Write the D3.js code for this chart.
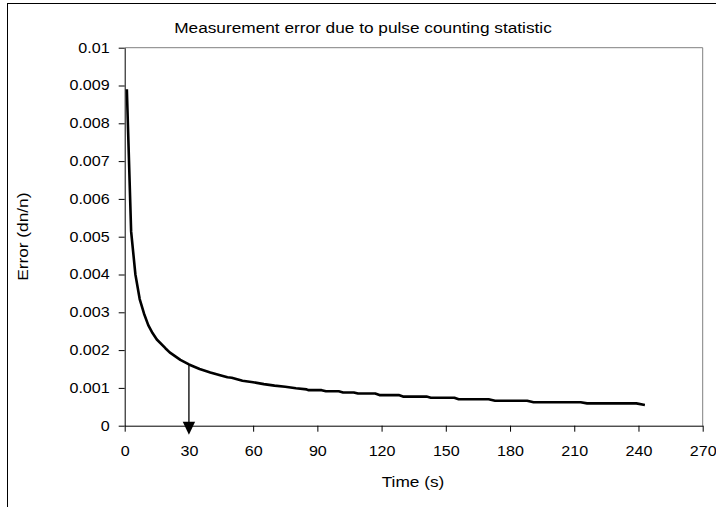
<!DOCTYPE html>
<html lang="en">
<head>
<meta charset="UTF-8">
<title>Measurement error</title>
<script src="https://d3js.org/d3.v7.min.js"></script>
<style>
  body { margin: 0; background: #fff; }
  text { font-family: "Liberation Sans", Arial, sans-serif; fill: #000; }
</style>
</head>
<body>
<div id="chart"></div>
<script>
// Data
const times  = [1, 3, 5, 7, 9, 11, 13, 15, 19, 21, 24, 26, 30, 35, 40, 45, 48, 50, 55, 60, 65, 70, 75, 80, 85,
                86, 92, 94, 100, 102, 107, 109, 117, 119, 128, 130, 141, 143, 154, 156, 170, 173, 188, 191, 213, 216, 239, 243];
const errors = [0.0089, 0.00514, 0.0040, 0.00335, 0.00297, 0.00266, 0.00245, 0.00228, 0.00205, 0.00194, 0.00182, 0.00174,
                0.00162, 0.0015, 0.00141, 0.00133, 0.00128, 0.00127, 0.00119, 0.00115, 0.0011, 0.00106, 0.00103, 0.00099, 0.00096,
                0.00094, 0.00094, 0.00091, 0.00091, 0.00088, 0.00088, 0.00085, 0.00085, 0.00081, 0.00081, 0.00077, 0.00077,
                0.00074, 0.00074, 0.0007, 0.0007, 0.00066, 0.00066, 0.00062, 0.00062, 0.00059, 0.00059, 0.00055];
const xTicks = [0, 30, 60, 90, 120, 150, 180, 210, 240, 270];
const yTicks = [0, 0.001, 0.002, 0.003, 0.004, 0.005, 0.006, 0.007, 0.008, 0.009, 0.01];
const markT = 30, markErr = 0.0016;

const W = 716, H = 507;
const plot = {left: 124.7, right: 702.7, top: 47.7, bottom: 425.7};
const stretch = 1.15; // the original lettering is a bit wider than Arial

const svg = d3.select("#chart").append("svg")
    .attr("width", W).attr("height", H);

// outer chart frame (cut off at the right and bottom)
svg.append("rect")
    .attr("x", 7.5).attr("y", 3.5).attr("width", 740).attr("height", 540)
    .attr("fill", "none").attr("stroke", "#000").attr("stroke-width", 1);

const x = d3.scaleLinear().domain([0, 270]).range([plot.left, plot.right]);
const y = d3.scaleLinear().domain([0, 0.01]).range([plot.bottom, plot.top]);

// plot area top/right border
svg.append("path")
    .attr("d", `M${plot.left},${plot.top}H${plot.right}V${plot.bottom}`)
    .attr("fill", "none").attr("stroke", "#808080").attr("stroke-width", 1);

// axes
const xAxis = svg.append("g")
    .attr("transform", `translate(0,${plot.bottom})`)
    .call(d3.axisBottom(x).tickValues(xTicks).tickSize(6).tickSizeOuter(0).tickPadding(14.5));
const yAxis = svg.append("g")
    .attr("transform", `translate(${plot.left},0)`)
    .call(d3.axisLeft(y).tickValues(yTicks).tickSize(6).tickSizeOuter(0).tickPadding(9)
        .tickFormat(d => d === 0 ? "0" : String(+d.toFixed(3))));
[xAxis, yAxis].forEach(a => {
    a.attr("font-family", null);
    a.selectAll("path,line").attr("stroke", "#000");
    a.selectAll("text").style("font-size", "14px").attr("fill", "#000")
        .each(function() {
            const t = d3.select(this);
            const tx = +t.attr("x") || 0;
            t.attr("x", 0).attr("transform", `translate(${tx},0) scale(${stretch},1)`);
        });
});

// error curve
const pts = times.map((t, i) => [t, errors[i]]);
svg.append("path")
    .datum(pts)
    .attr("d", d3.line().x(d => x(d[0])).y(d => y(d[1])))
    .attr("fill", "none").attr("stroke", "#000").attr("stroke-width", 2.6)
    .attr("stroke-linejoin", "round");

// arrow at 30 s
const ax = x(markT);
svg.append("line")
    .attr("x1", ax).attr("x2", ax)
    .attr("y1", y(markErr)).attr("y2", y(0) - 3)
    .attr("stroke", "#000").attr("stroke-width", 1.3);
svg.append("path")
    .attr("d", `M${ax - 6.2},${y(0) - 4}L${ax + 6.2},${y(0) - 4}L${ax},${y(0) + 9}Z`)
    .attr("fill", "#000");

// titles
function label(tx, ty, rot, str) {
    svg.append("text")
        .attr("transform", `translate(${tx},${ty}) rotate(${rot}) scale(${stretch - 0.03},1)`)
        .attr("text-anchor", "middle").style("font-size", "15.4px")
        .text(str);
}
label(363, 33, 0, "Measurement error due to pulse counting statistic");
label(413, 487, 0, "Time (s)");
label(27.5, (plot.top + plot.bottom) / 2, -90, "Error (dn/n)");
</script>
</body>
</html>
